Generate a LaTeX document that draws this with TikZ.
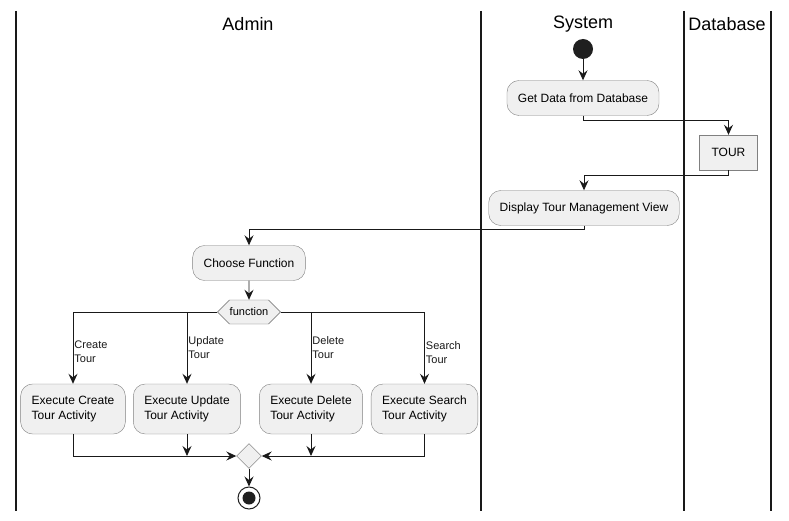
\documentclass[tikz,border=0pt]{standalone}
\usepackage{fontspec}
\setmainfont{Liberation Sans}
\usetikzlibrary{arrows.meta}
\usetikzlibrary{positioning}
\usetikzlibrary{shapes.geometric}
\usetikzlibrary{shapes.symbols}
\begin{document}
\begin{tikzpicture}[x=1pt,y=-1pt,>={Stealth[length=10pt,width=9pt,inset=3.5pt]},
	lane/.style={line width=1.5pt,black!90},
	title/.style={font=\fontsize{18}{20}\selectfont},
	act/.style={draw=black!50,fill=black!6,rounded corners=12pt,minimum height=35pt,inner xsep=11pt,font=\fontsize{12}{14.5}\selectfont,align=left},
	acttwo/.style={act,minimum height=50pt},
	store/.style={draw=black!50,fill=black!6,minimum height=35pt,inner xsep=12pt,font=\fontsize{12}{14.5}\selectfont},
	choice/.style={draw=black!60,fill=black!6,signal,signal to=west and east,minimum width=63pt,minimum height=24pt,inner sep=0pt,font=\fontsize{11}{13}\selectfont},
	merge/.style={draw=black!60,fill=black!6,diamond,minimum size=25pt,inner sep=0pt},
	start/.style={circle,fill=black!88,minimum size=20pt,inner sep=0pt},
	stop/.style={circle,draw=black!88,line width=1pt,fill=white,minimum size=22pt,inner sep=0pt,path picture={\fill[black!88] (path picture bounding box.center) circle (6.5pt);}},
	flow/.style={->,line width=0.9pt,black!90},
	lbl/.style={anchor=west,inner xsep=1pt,align=left,font=\fontsize{11}{14}\selectfont}]
	% swimlanes
	\useasboundingbox (0,0) rectangle (789,521);
	\foreach \x in {16,481,684,771}
		\draw[lane] (\x,11) -- (\x,511);
	\node[title] (tadmin) at (248,24) {Admin};
	\node[title] (tsys) at (583,24) {System};
	\node[title] (tdb) at (727,24) {Database};
	% activities
	\node[start] (start) at (583,49) {};
	\node[act] (get) at (583,98) {Get Data from Database};
	\node[store] (tour) at (728.5,152.5) {TOUR};
	\node[act] (disp) at (584,208) {Display Tour Management View};
	\node[act] (choose) at (249,263) {Choose Function};
	\node[choice] (fn) at (249,312) {function};
	\node[acttwo] (create) at (73,409) {Execute Create\\Tour Activity};
	\node[acttwo] (upd) at (187,409) {Execute Update\\Tour Activity};
	\node[acttwo] (del) at (311,409) {Execute Delete\\Tour Activity};
	\node[acttwo] (srch) at (424.5,409) {Execute Search\\Tour Activity};
	\node[merge] (join) at (249,456) {};
	\node[stop] (stop) at (249,498) {};
	% connectors
	\draw[flow] (start) -- (get);
	\draw[flow] (get.south) -- ++(0,5) -| (tour.north);
	\draw[flow] (tour.south) -- ++(0,5) -| (disp.north);
	\draw[flow] (disp.south) -- ++(0,4) -| (choose.north);
	\draw[flow] (choose) -- (fn);
	\draw[flow] (fn.west) -| (create.north) node[lbl,pos=0.78] {Create\\Tour};
	\draw[flow] (fn.west -| upd.north) -- (upd.north) node[lbl,pos=0.49] {Update\\Tour};
	\draw[flow] (fn.east -| del.north) -- (del.north) node[lbl,pos=0.49] {Delete\\Tour};
	\draw[flow] (fn.east) -| (srch.north) node[lbl,pos=0.78] {Search\\Tour};
	\draw[flow] (create.south) |- (join.west);
	\draw[flow] (upd.south) -- (upd.south |- join.west);
	\draw[flow] (del.south) -- (del.south |- join.east);
	\draw[flow] (srch.south) |- (join.east);
	\draw[flow] (join) -- (stop);
\end{tikzpicture}
\end{document}
